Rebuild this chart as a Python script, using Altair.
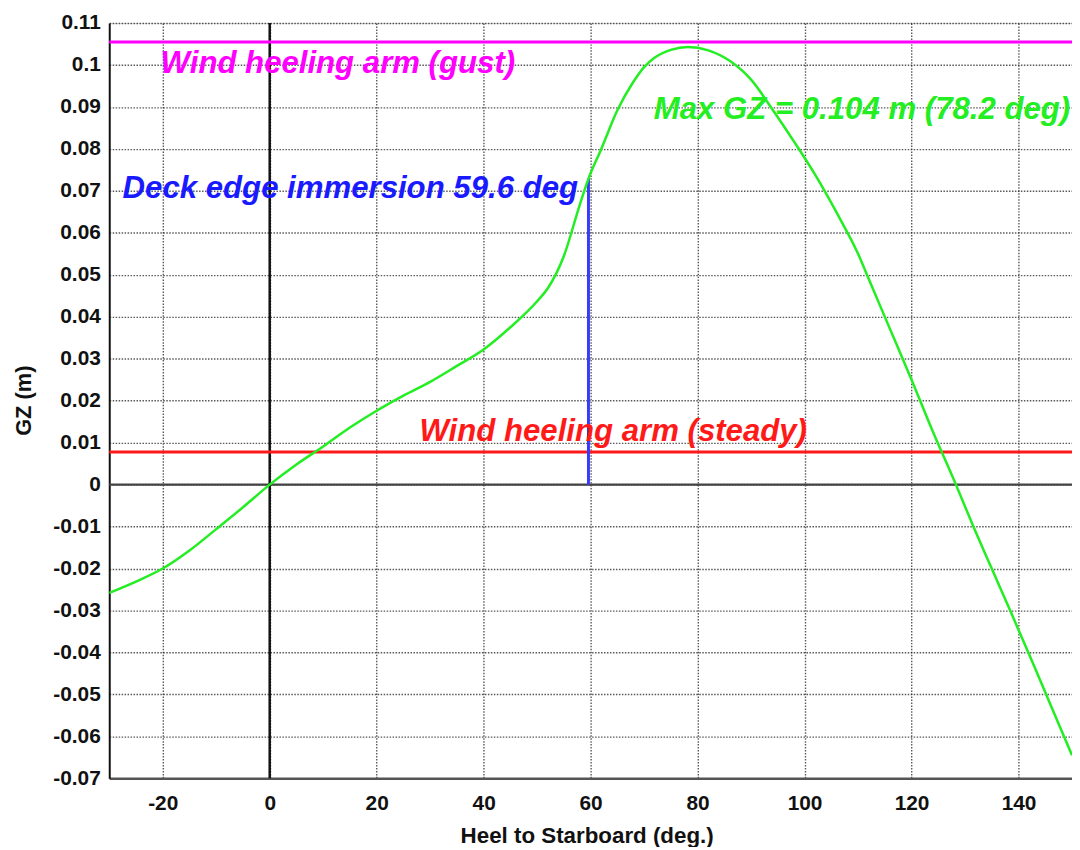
import altair as alt
import pandas as pd

# GZ curve
heel = [-30, -25, -20, -15, -10, -5, 0, 5, 10, 15, 20, 25, 30, 35, 40, 45, 50, 52, 55, 58,
        59.6, 62, 65, 68, 70, 72, 75, 78.2, 82, 86, 90, 94, 98, 102, 106, 110, 112, 116,
        120, 124, 128.3, 131.5, 135, 138.5, 142, 146, 150]
gz = [-0.0258, -0.0231, -0.0200, -0.0157, -0.0106, -0.0054, 0.0, 0.0048, 0.0091, 0.0136,
      0.0176, 0.0212, 0.0245, 0.0283, 0.0322, 0.0375, 0.0437, 0.0468, 0.0545, 0.0668,
      0.0729, 0.0800, 0.0892, 0.0960, 0.0995, 0.1018, 0.1036, 0.1043, 0.1035, 0.1010,
      0.0965, 0.0894, 0.0818, 0.0738, 0.0648, 0.0550, 0.0490, 0.0370, 0.0250, 0.0126,
      0.0, -0.0098, -0.0200, -0.0302, -0.0405, -0.0525, -0.0645]

gust_arm = 0.1055
steady_arm = 0.0078
deck_edge_heel = 59.6
deck_edge_gz = 0.0729

x_ticks = [-20, 0, 20, 40, 60, 80, 100, 120, 140]
y_ticks = [-0.07, -0.06, -0.05, -0.04, -0.03, -0.02, -0.01, 0, 0.01, 0.02, 0.03, 0.04,
           0.05, 0.06, 0.07, 0.08, 0.09, 0.1, 0.11]

ann_text = ["Wind heeling arm (gust)", "Deck edge immersion 59.6 deg",
            "Max GZ = 0.104 m (78.2 deg)", "Wind heeling arm (steady)"]
ann_x = [-20.4, -27.5, 71.8, 28.0]
ann_y = [0.0980, 0.0684, 0.0872, 0.0103]
ann_color = ["#ff00ff", "#1a1aff", "#22ee22", "#ff1a1a"]

curve = pd.DataFrame({"heel": heel, "gz": gz})
ann = pd.DataFrame({"x": ann_x, "y": ann_y, "t": ann_text, "c": ann_color})

xs = alt.Scale(domain=[-30, 150], nice=False, zero=False)
ys = alt.Scale(domain=[-0.07, 0.11], nice=False, zero=False)

FONT = "Liberation Sans"
GRID = dict(grid=True, gridColor="#222", gridDash=[1.5, 1.5], gridWidth=1.4, gridOpacity=0.75)

xaxis = alt.Axis(
    title="Heel to Starboard (deg.)", values=x_ticks,
    labelExpr="(datum.value < 0 ? '-' : '') + format(abs(datum.value), 'd')",
    labelFont=FONT, labelFontWeight="bold", labelFontSize=21, labelColor="#111",
    labelPadding=14, ticks=False,
    titleFont=FONT, titleFontWeight="bold", titleFontSize=22.5, titleColor="#111",
    titleX=481, titleY=58, titleBaseline="middle", titleAlign="center",
    domainColor="#555", domainWidth=2.5, **GRID,
)
yaxis = alt.Axis(
    title="GZ (m)", values=y_ticks,
    labelExpr="datum.value == 0 ? '0' : (datum.value < 0 ? '-' : '') + format(abs(datum.value), '.2~f')",
    labelFont=FONT, labelFontWeight="bold", labelFontSize=21, labelColor="#111",
    labelPadding=9, ticks=False,
    titleFont=FONT, titleFontWeight="bold", titleFontSize=22, titleColor="#111",
    titleX=-86, titleY=380, titleAngle=-90, titleBaseline="middle", titleAlign="center",
    domainColor="#111", domainWidth=2, **GRID,
)

base = alt.Chart(curve)

axes_layer = base.mark_point(opacity=0).encode(
    x=alt.X("heel:Q", scale=xs, axis=xaxis),
    y=alt.Y("gz:Q", scale=ys, axis=yaxis),
)

zero_h = alt.Chart(pd.DataFrame({"y": [0]})).mark_rule(color="#444", strokeWidth=2.5).encode(
    y=alt.Y("y:Q", scale=ys))
zero_v = alt.Chart(pd.DataFrame({"x": [0]})).mark_rule(color="#111", strokeWidth=2.5).encode(
    x=alt.X("x:Q", scale=xs))

gust = alt.Chart(pd.DataFrame({"y": [gust_arm]})).mark_rule(color="#ff00ff", strokeWidth=3).encode(
    y=alt.Y("y:Q", scale=ys))
steady = alt.Chart(pd.DataFrame({"y": [steady_arm]})).mark_rule(color="#ff1a1a", strokeWidth=3).encode(
    y=alt.Y("y:Q", scale=ys))
deck = alt.Chart(pd.DataFrame({"x": [deck_edge_heel], "y0": [0], "y1": [deck_edge_gz]})).mark_rule(
    color="#3a3aff", strokeWidth=3).encode(
    x=alt.X("x:Q", scale=xs), y=alt.Y("y0:Q", scale=ys), y2="y1:Q")

line = base.mark_line(color="#22ee22", strokeWidth=2.5, interpolate="monotone", clip=True).encode(
    x=alt.X("heel:Q", scale=xs), y=alt.Y("gz:Q", scale=ys))

texts = alt.Chart(ann).mark_text(
    font=FONT, fontSize=31.4, fontStyle="italic", fontWeight="bold",
    align="left", baseline="alphabetic",
).encode(
    x=alt.X("x:Q", scale=xs), y=alt.Y("y:Q", scale=ys), text="t:N",
    color=alt.Color("c:N", scale=None),
)

chart = alt.layer(axes_layer, zero_h, zero_v, gust, steady, deck, line, texts).properties(
    width=970, height=761,
    autosize=alt.AutoSizeParams(type="none"),
    padding={"left": 102, "top": 12, "right": 0, "bottom": 66},
).configure_view(stroke=None).configure(background="white")

chart.save("out.html", embed_options={"renderer": "svg", "actions": False})
